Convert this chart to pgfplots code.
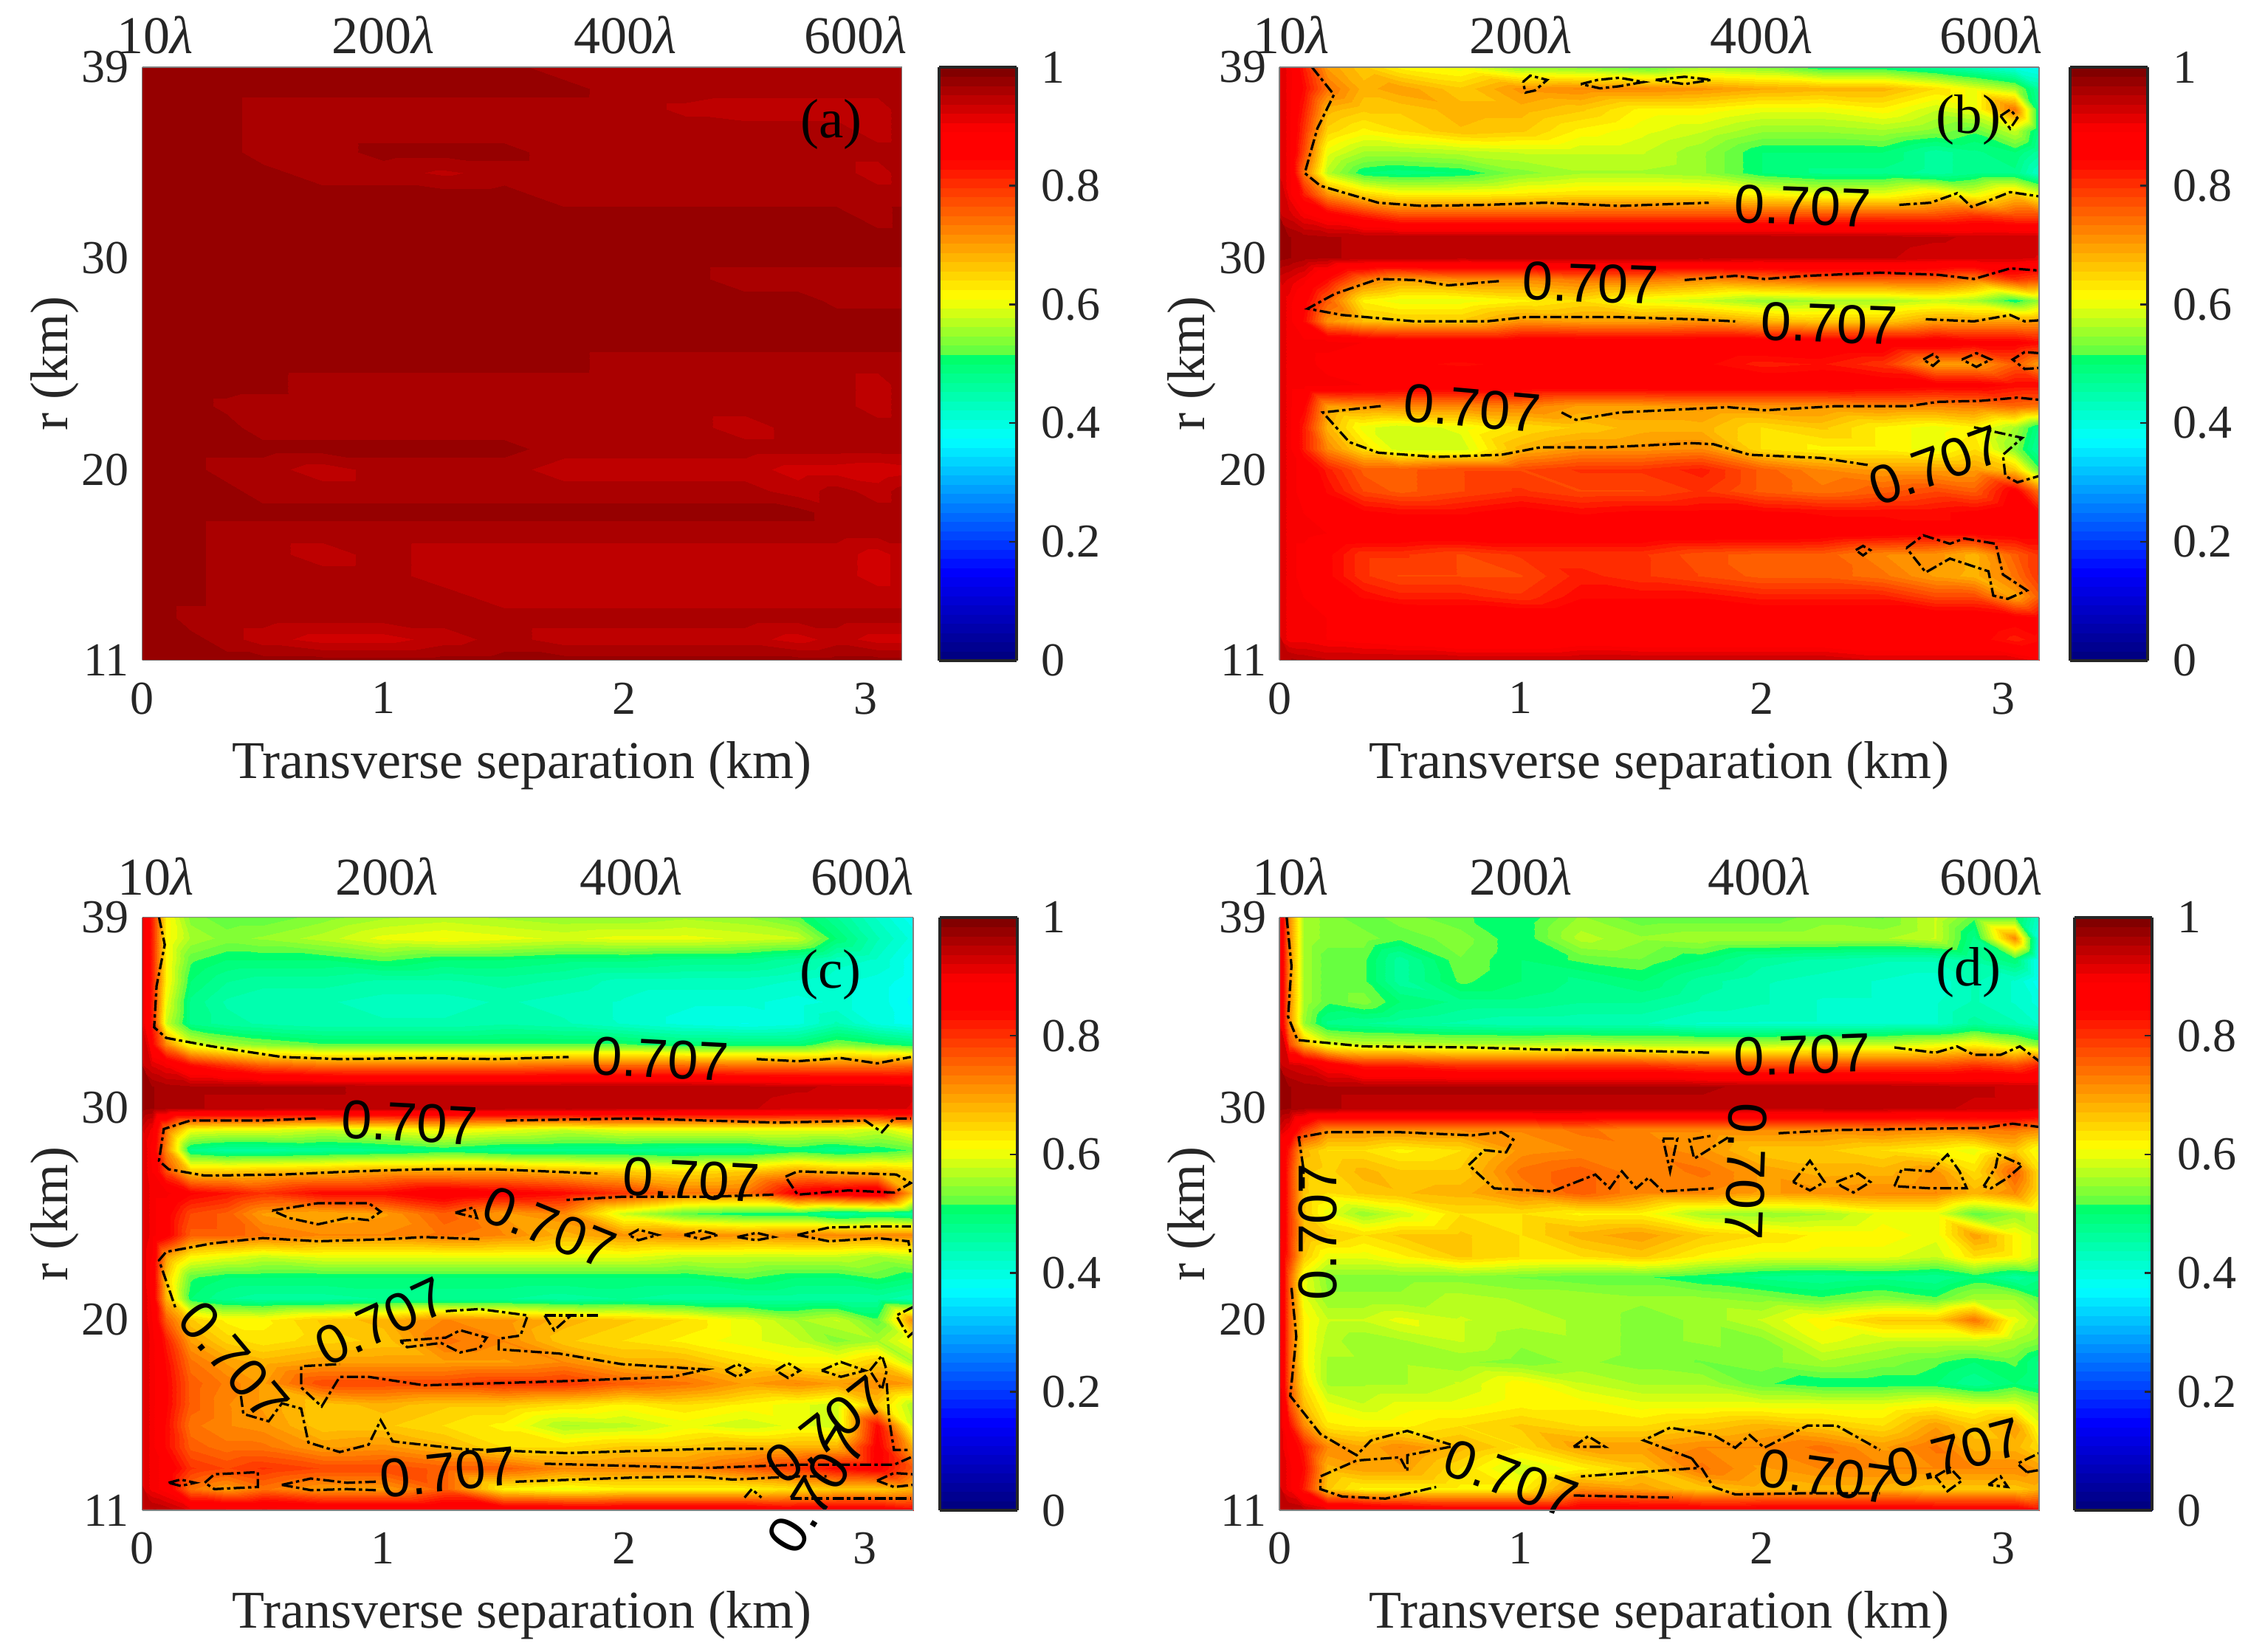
\documentclass[border=0pt]{standalone}
\usepackage{fontspec}
\setmainfont{Liberation Serif}
\newfontfamily\labfont{Liberation Sans}
\usepackage{pgfplots}
\usepackage{pgfplotstable}
\pgfplotsset{compat=1.18}
\definecolor{cornera}{RGB}{150,0,0}
\definecolor{cornerb}{RGB}{190,0,0}

\pgfplotsset{
  colormap={basejet}{rgb255(0pt)=(0,0,130); rgb255(145pt)=(0,0,255); rgb255(370pt)=(0,255,255);
    rgb255(515pt)=(0,255,100); rgb255(516pt)=(90,255,70); rgb255(613pt)=(255,255,0);
    rgb255(850pt)=(255,0,0); rgb255(900pt)=(255,0,0); rgb255(1000pt)=(130,0,0)},
  colormap={stepjet}{samples of colormap=(64 of basejet)},
  colormap access=piecewise constant,
  panel/.style n args={3}{
    scale only axis, width=#1, height=160.7pt, xmin=0, xmax=#2, ymin=11, ymax=39, zmin=0, zmax=2,
    view={0}{90}, clip=false, colormap name=stepjet, point meta min=0, point meta max=1,
    xtick={0,1,2,3}, xticklabels={0,1,2,3}, ytick={11,20,30,39}, yticklabels={11,20,30,39},
    ztick=\empty, major tick length=0pt, axis line style={gray,line width=.3pt},
    tick label style={font=\fontsize{12.8}{15}\selectfont,text=black!85},
    xticklabel style={yshift=-2.5pt}, yticklabel style={xshift=0pt},
    xlabel={Transverse separation (km)}, ylabel={r (km)},
    label style={font=\fontsize{14.4}{16}\selectfont,text=black!85},
    xlabel style={at={(axis description cs:0.5,0)},anchor=center,yshift=-28.5pt},
    ylabel style={at={(axis description cs:0,0.5)},anchor=center,yshift=23.7pt},
    colorbar, colorbar shift/.style={xshift=#3},
    colorbar style={width=21pt,height=160.7pt,
      ytick={0,0.2,0.4,0.6,0.8,1},yticklabels={0,0.2,0.4,0.6,0.8,1},ytick pos=right,yticklabel pos=right,
      tick align=inside,major tick length=2pt,tick style={black!85,line width=.5pt},
      axis line style={black!85,line width=.8pt},
      yticklabel style={font=\fontsize{12.8}{15}\selectfont,text=black!85,xshift=3.3pt}},
  },
  toplab/.style 2 args={
    scale only axis, width=#1, height=160.7pt, xmin=0, xmax=#2, ymin=11, ymax=39,
    axis x line*=top, axis y line=none, x axis line style={draw=none}, major tick length=0pt,
    xticklabel style={font=\fontsize{14.4}{16}\selectfont,text=black!85},
  },
  ct/.style={black,line width=.65pt,no marks,dash pattern=on 3pt off .9pt on .9pt off .9pt},
  hm/.style={surf,shader=interp,mesh/cols=18,forget plot},
}
\tikzset{
  lb/.style={font=\labfont\fontsize{14.8}{16}\selectfont,inner sep=0pt},
  tag/.style={font=\fontsize{15}{16}\selectfont,inner sep=0pt},
}
% x of a grid column, from its place in a row of 18
\def\colno{\numexpr\coordindex-18*((2*\coordindex-17)/36)\relax}
\def\gridstd{\ifcase\colno 0\or 0.04\or 0.1\or 0.2\or 0.35\or 0.5\or 0.75\or 1\or 1.25\or 1.5\or 1.75\or 2\or 2.25\or 2.5\or 2.72\or 2.88\or 3.05\or 3.15\fi}
\def\gridc{\ifcase\colno 0\or 0.04\or 0.1\or 0.2\or 0.35\or 0.5\or 0.75\or 1\or 1.25\or 1.5\or 1.75\or 2\or 2.25\or 2.5\or 2.72\or 2.88\or 3.05\or 3.2\fi}

% each line is one r, from 39 down to 11
\pgfplotstableread[row sep=\\,header=false]{
.975\\.975\\.975\\.975\\.975\\.975\\.975\\.975\\.975\\.975\\.96\\.96\\.96\\.96\\.96\\.955\\.955\\.96\\
.975\\.975\\.975\\.975\\.975\\.975\\.975\\.975\\.975\\.975\\.975\\.96\\.96\\.96\\.96\\.96\\.96\\.96\\
.975\\.975\\.975\\.975\\.975\\.96\\.96\\.96\\.96\\.96\\.96\\.96\\.95\\.945\\.945\\.945\\.945\\.96\\
.975\\.975\\.975\\.975\\.975\\.96\\.96\\.96\\.96\\.96\\.96\\.96\\.96\\.96\\.96\\.96\\.945\\.96\\
.975\\.975\\.975\\.975\\.975\\.96\\.96\\.975\\.975\\.975\\.96\\.96\\.96\\.96\\.96\\.96\\.96\\.96\\
.975\\.975\\.975\\.975\\.975\\.975\\.96\\.96\\.95\\.96\\.96\\.96\\.96\\.96\\.96\\.96\\.945\\.96\\
.975\\.975\\.975\\.975\\.975\\.975\\.975\\.975\\.975\\.975\\.96\\.96\\.96\\.96\\.96\\.96\\.96\\.96\\
.975\\.975\\.975\\.975\\.975\\.975\\.975\\.975\\.975\\.975\\.975\\.975\\.975\\.975\\.975\\.975\\.96\\.975\\
.975\\.975\\.975\\.975\\.975\\.975\\.975\\.975\\.975\\.975\\.975\\.975\\.975\\.975\\.975\\.975\\.975\\.975\\
.975\\.975\\.975\\.975\\.975\\.975\\.975\\.975\\.975\\.975\\.975\\.975\\.975\\.975\\.975\\.975\\.975\\.975\\
.975\\.975\\.975\\.975\\.975\\.975\\.975\\.975\\.975\\.975\\.975\\.975\\.975\\.96\\.96\\.96\\.96\\.96\\
.975\\.975\\.975\\.975\\.975\\.975\\.975\\.975\\.975\\.975\\.975\\.975\\.975\\.975\\.975\\.965\\.965\\.965\\
.975\\.975\\.975\\.975\\.975\\.975\\.975\\.975\\.975\\.975\\.975\\.975\\.975\\.975\\.975\\.975\\.975\\.975\\
.975\\.975\\.975\\.975\\.975\\.975\\.975\\.975\\.975\\.975\\.975\\.975\\.975\\.975\\.975\\.975\\.975\\.975\\
.975\\.975\\.975\\.975\\.975\\.975\\.975\\.975\\.975\\.975\\.975\\.96\\.96\\.96\\.96\\.96\\.96\\.96\\
.975\\.975\\.975\\.975\\.975\\.975\\.96\\.96\\.96\\.96\\.96\\.96\\.96\\.96\\.96\\.96\\.945\\.96\\
.975\\.975\\.975\\.975\\.965\\.96\\.96\\.96\\.96\\.96\\.96\\.96\\.96\\.96\\.96\\.96\\.945\\.96\\
.975\\.975\\.975\\.975\\.975\\.96\\.96\\.96\\.96\\.96\\.96\\.96\\.96\\.945\\.96\\.96\\.96\\.96\\
.975\\.975\\.975\\.975\\.975\\.975\\.975\\.975\\.975\\.975\\.96\\.96\\.96\\.96\\.96\\.96\\.96\\.96\\
.975\\.975\\.975\\.975\\.96\\.96\\.945\\.96\\.96\\.96\\.945\\.945\\.945\\.945\\.93\\.93\\.925\\.93\\
.975\\.975\\.975\\.975\\.975\\.96\\.96\\.96\\.96\\.96\\.96\\.96\\.96\\.96\\.945\\.96\\.945\\.96\\
.975\\.975\\.975\\.975\\.975\\.975\\.975\\.975\\.975\\.975\\.975\\.975\\.975\\.975\\.975\\.96\\.96\\.96\\
.975\\.975\\.975\\.975\\.96\\.96\\.96\\.96\\.96\\.96\\.96\\.96\\.96\\.96\\.96\\.96\\.96\\.96\\
.975\\.975\\.975\\.975\\.96\\.96\\.945\\.96\\.945\\.945\\.945\\.945\\.945\\.945\\.945\\.945\\.93\\.945\\
.975\\.975\\.975\\.975\\.96\\.96\\.96\\.96\\.945\\.945\\.945\\.945\\.945\\.945\\.945\\.945\\.93\\.945\\
.975\\.975\\.975\\.975\\.96\\.96\\.96\\.96\\.96\\.945\\.945\\.945\\.945\\.945\\.945\\.945\\.945\\.945\\
.975\\.975\\.975\\.96\\.96\\.96\\.96\\.96\\.96\\.96\\.96\\.96\\.96\\.96\\.96\\.96\\.96\\.96\\
.975\\.975\\.975\\.975\\.96\\.945\\.93\\.93\\.945\\.96\\.945\\.945\\.945\\.945\\.93\\.945\\.93\\.93\\
.975\\.975\\.975\\.975\\.975\\.975\\.975\\.975\\.975\\.975\\.975\\.975\\.975\\.975\\.975\\.975\\.975\\.975\\
}\tablea

\pgfplotstableread[row sep=\\,header=false]{
.92\\.90\\.82\\.70\\.66\\.62\\.60\\.55\\.54\\.52\\.56\\.54\\.50\\.50\\.47\\.44\\.40\\.38\\
.92\\.90\\.84\\.74\\.68\\.70\\.66\\.71\\.72\\.72\\.71\\.69\\.68\\.68\\.64\\.60\\.56\\.46\\
.92\\.90\\.82\\.68\\.66\\.66\\.68\\.68\\.66\\.62\\.62\\.60\\.60\\.62\\.58\\.60\\.74\\.48\\
.92\\.90\\.80\\.65\\.62\\.64\\.67\\.66\\.62\\.60\\.58\\.55\\.55\\.56\\.54\\.52\\.58\\.48\\
.92\\.90\\.78\\.60\\.56\\.56\\.57\\.58\\.58\\.58\\.55\\.50\\.50\\.50\\.46\\.48\\.50\\.46\\
.92\\.90\\.74\\.57\\.50\\.49\\.50\\.54\\.56\\.56\\.55\\.50\\.48\\.48\\.46\\.48\\.48\\.42\\
.92\\.90\\.82\\.71\\.65\\.62\\.62\\.63\\.64\\.64\\.64\\.62\\.60\\.60\\.64\\.60\\.66\\.60\\
.94\\.93\\.90\\.87\\.82\\.78\\.78\\.78\\.78\\.78\\.78\\.78\\.78\\.78\\.78\\.80\\.78\\.78\\
.975\\.97\\.96\\.955\\.95\\.95\\.95\\.95\\.95\\.95\\.95\\.95\\.945\\.945\\.94\\.935\\.935\\.935\\
.975\\.97\\.96\\.955\\.95\\.95\\.945\\.95\\.95\\.95\\.945\\.94\\.94\\.94\\.93\\.93\\.93\\.92\\
.93\\.92\\.90\\.84\\.74\\.70\\.72\\.72\\.74\\.74\\.72\\.74\\.76\\.76\\.76\\.73\\.80\\.78\\
.92\\.90\\.86\\.76\\.62\\.60\\.60\\.62\\.64\\.60\\.58\\.55\\.56\\.56\\.58\\.56\\.50\\.55\\
.92\\.90\\.84\\.71\\.67\\.66\\.66\\.71\\.70\\.70\\.71\\.68\\.66\\.66\\.70\\.70\\.70\\.70\\
.92\\.90\\.90\\.90\\.89\\.88\\.88\\.88\\.88\\.88\\.88\\.88\\.88\\.88\\.88\\.86\\.86\\.84\\
.92\\.90\\.90\\.88\\.87\\.85\\.84\\.85\\.87\\.86\\.85\\.82\\.83\\.80\\.70\\.70\\.76\\.70\\
.92\\.90\\.90\\.90\\.89\\.88\\.88\\.88\\.88\\.88\\.88\\.88\\.88\\.87\\.86\\.86\\.84\\.84\\
.92\\.90\\.85\\.70\\.71\\.72\\.72\\.73\\.70\\.70\\.71\\.71\\.71\\.72\\.72\\.73\\.75\\.74\\
.92\\.90\\.82\\.68\\.60\\.58\\.60\\.64\\.66\\.68\\.68\\.64\\.66\\.62\\.60\\.62\\.56\\.48\\
.92\\.90\\.82\\.72\\.64\\.58\\.58\\.68\\.71\\.71\\.72\\.64\\.62\\.62\\.60\\.64\\.54\\.46\\
.92\\.90\\.88\\.82\\.76\\.76\\.78\\.78\\.80\\.80\\.82\\.76\\.72\\.70\\.70\\.70\\.66\\.52\\
.92\\.90\\.88\\.84\\.78\\.76\\.78\\.80\\.78\\.78\\.80\\.76\\.74\\.76\\.78\\.76\\.86\\.74\\
.92\\.90\\.89\\.87\\.85\\.84\\.84\\.86\\.84\\.85\\.85\\.85\\.84\\.84\\.84\\.85\\.88\\.84\\
.92\\.90\\.90\\.89\\.88\\.88\\.88\\.88\\.88\\.88\\.88\\.88\\.87\\.86\\.85\\.85\\.86\\.86\\
.92\\.90\\.88\\.85\\.80\\.80\\.78\\.80\\.80\\.80\\.77\\.76\\.76\\.72\\.71\\.68\\.76\\.80\\
.92\\.90\\.88\\.85\\.80\\.78\\.78\\.78\\.82\\.80\\.78\\.76\\.76\\.74\\.70\\.68\\.74\\.80\\
.92\\.90\\.89\\.87\\.84\\.82\\.82\\.80\\.84\\.84\\.84\\.82\\.82\\.82\\.78\\.78\\.69\\.76\\
.92\\.90\\.90\\.89\\.89\\.89\\.88\\.88\\.88\\.88\\.88\\.88\\.88\\.88\\.88\\.88\\.86\\.85\\
.92\\.90\\.90\\.89\\.88\\.87\\.85\\.85\\.87\\.86\\.86\\.86\\.86\\.86\\.86\\.86\\.82\\.84\\
.97\\.96\\.95\\.94\\.94\\.94\\.94\\.94\\.94\\.94\\.94\\.94\\.94\\.92\\.92\\.92\\.92\\.90\\
}\tableb

\pgfplotstableread[row sep=\\,header=false]{
.92\\.82\\.62\\.54\\.52\\.52\\.54\\.56\\.57\\.56\\.55\\.55\\.56\\.55\\.52\\.47\\.42\\.38\\
.92\\.82\\.62\\.56\\.54\\.55\\.57\\.60\\.61\\.60\\.59\\.60\\.60\\.59\\.58\\.50\\.44\\.40\\
.92\\.82\\.62\\.52\\.50\\.50\\.50\\.52\\.50\\.50\\.49\\.49\\.48\\.48\\.46\\.43\\.42\\.38\\
.92\\.82\\.62\\.50\\.47\\.46\\.46\\.45\\.45\\.46\\.45\\.43\\.43\\.43\\.42\\.41\\.40\\.38\\
.92\\.82\\.60\\.48\\.45\\.44\\.44\\.43\\.43\\.44\\.43\\.42\\.41\\.41\\.40\\.41\\.40\\.37\\
.92\\.82\\.58\\.48\\.46\\.45\\.44\\.44\\.44\\.45\\.44\\.42\\.40\\.39\\.40\\.44\\.40\\.38\\
.92\\.85\\.72\\.60\\.56\\.54\\.52\\.52\\.52\\.52\\.52\\.52\\.50\\.50\\.50\\.54\\.52\\.50\\
.94\\.92\\.90\\.84\\.80\\.76\\.74\\.74\\.74\\.74\\.75\\.75\\.75\\.74\\.74\\.74\\.74\\.75\\
.975\\.97\\.96\\.955\\.955\\.955\\.955\\.95\\.95\\.95\\.95\\.95\\.95\\.945\\.94\\.935\\.935\\.925\\
.975\\.97\\.96\\.955\\.95\\.95\\.95\\.95\\.95\\.95\\.95\\.945\\.94\\.94\\.93\\.93\\.93\\.92\\
.93\\.90\\.74\\.61\\.60\\.60\\.58\\.60\\.62\\.60\\.58\\.60\\.60\\.60\\.60\\.60\\.58\\.62\\
.92\\.88\\.72\\.48\\.46\\.46\\.47\\.48\\.50\\.48\\.48\\.48\\.47\\.47\\.50\\.48\\.50\\.52\\
.92\\.89\\.78\\.66\\.66\\.67\\.68\\.70\\.70\\.70\\.68\\.66\\.64\\.66\\.70\\.68\\.68\\.66\\
.92\\.90\\.90\\.85\\.83\\.80\\.84\\.84\\.88\\.86\\.84\\.80\\.74\\.74\\.86\\.88\\.90\\.68\\
.92\\.90\\.86\\.78\\.76\\.70\\.69\\.70\\.76\\.70\\.72\\.58\\.52\\.50\\.50\\.46\\.48\\.46\\
.92\\.90\\.86\\.76\\.76\\.74\\.72\\.72\\.74\\.72\\.68\\.71\\.72\\.71\\.72\\.72\\.72\\.72\\
.92\\.89\\.70\\.62\\.60\\.58\\.60\\.60\\.60\\.60\\.60\\.60\\.58\\.58\\.58\\.58\\.56\\.58\\
.92\\.88\\.66\\.52\\.50\\.50\\.50\\.50\\.50\\.50\\.50\\.50\\.50\\.52\\.50\\.50\\.52\\.50\\
.92\\.88\\.68\\.50\\.47\\.46\\.46\\.47\\.47\\.47\\.46\\.47\\.46\\.46\\.46\\.46\\.46\\.44\\
.92\\.89\\.76\\.66\\.62\\.62\\.66\\.68\\.72\\.71\\.68\\.66\\.64\\.60\\.56\\.58\\.52\\.72\\
.92\\.90\\.82\\.70\\.65\\.63\\.65\\.66\\.74\\.72\\.66\\.64\\.62\\.60\\.58\\.54\\.56\\.62\\
.92\\.90\\.84\\.74\\.70\\.68\\.70\\.70\\.70\\.70\\.72\\.68\\.68\\.64\\.62\\.62\\.66\\.56\\
.92\\.90\\.85\\.76\\.73\\.70\\.78\\.78\\.78\\.80\\.80\\.76\\.74\\.70\\.72\\.70\\.72\\.70\\
.92\\.90\\.85\\.76\\.72\\.70\\.66\\.68\\.66\\.66\\.64\\.62\\.64\\.62\\.60\\.58\\.66\\.56\\
.92\\.90\\.84\\.74\\.72\\.71\\.66\\.66\\.64\\.62\\.56\\.57\\.60\\.58\\.60\\.58\\.84\\.58\\
.92\\.90\\.84\\.76\\.74\\.74\\.70\\.71\\.68\\.64\\.64\\.66\\.66\\.68\\.68\\.68\\.86\\.68\\
.92\\.90\\.88\\.80\\.78\\.80\\.78\\.78\\.76\\.76\\.72\\.72\\.72\\.76\\.80\\.84\\.86\\.76\\
.92\\.90\\.88\\.74\\.70\\.74\\.70\\.70\\.76\\.62\\.60\\.62\\.62\\.62\\.64\\.66\\.66\\.68\\
.97\\.96\\.95\\.92\\.92\\.92\\.90\\.90\\.90\\.90\\.90\\.90\\.90\\.90\\.88\\.88\\.88\\.85\\
}\tablec

\pgfplotstableread[row sep=\\,header=false]{
.92\\.72\\.56\\.54\\.52\\.54\\.52\\.50\\.55\\.52\\.52\\.52\\.54\\.53\\.58\\.52\\.52\\.42\\
.92\\.72\\.56\\.54\\.54\\.52\\.54\\.50\\.57\\.55\\.56\\.56\\.56\\.56\\.58\\.48\\.72\\.40\\
.92\\.72\\.56\\.52\\.52\\.46\\.53\\.50\\.52\\.53\\.50\\.46\\.45\\.44\\.44\\.46\\.50\\.38\\
.92\\.72\\.56\\.52\\.52\\.46\\.52\\.50\\.48\\.50\\.46\\.44\\.43\\.42\\.41\\.44\\.42\\.38\\
.92\\.72\\.56\\.52\\.54\\.50\\.48\\.48\\.47\\.47\\.45\\.44\\.42\\.42\\.42\\.44\\.42\\.40\\
.92\\.72\\.55\\.48\\.47\\.46\\.45\\.44\\.44\\.44\\.42\\.42\\.42\\.42\\.42\\.46\\.44\\.42\\
.92\\.78\\.68\\.60\\.58\\.58\\.57\\.57\\.58\\.57\\.57\\.57\\.58\\.58\\.60\\.62\\.58\\.54\\
.94\\.93\\.92\\.88\\.82\\.82\\.80\\.80\\.80\\.80\\.78\\.78\\.78\\.78\\.78\\.80\\.78\\.82\\
.975\\.97\\.96\\.955\\.955\\.955\\.955\\.955\\.955\\.955\\.955\\.95\\.95\\.95\\.945\\.94\\.935\\.935\\
.975\\.97\\.96\\.955\\.95\\.95\\.95\\.95\\.95\\.95\\.95\\.945\\.945\\.945\\.94\\.935\\.935\\.925\\
.93\\.90\\.80\\.72\\.72\\.72\\.72\\.72\\.74\\.72\\.72\\.72\\.72\\.73\\.72\\.73\\.74\\.72\\
.92\\.82\\.68\\.64\\.64\\.62\\.64\\.71\\.72\\.73\\.71\\.66\\.66\\.64\\.62\\.60\\.66\\.60\\
.92\\.80\\.66\\.65\\.68\\.66\\.66\\.74\\.76\\.72\\.74\\.70\\.68\\.68\\.71\\.64\\.76\\.64\\
.92\\.80\\.66\\.64\\.66\\.67\\.68\\.72\\.76\\.72\\.72\\.70\\.71\\.72\\.72\\.68\\.72\\.64\\
.92\\.80\\.66\\.60\\.55\\.58\\.64\\.64\\.62\\.62\\.56\\.55\\.56\\.60\\.60\\.52\\.55\\.58\\
.92\\.80\\.68\\.66\\.64\\.66\\.66\\.64\\.68\\.70\\.66\\.64\\.62\\.62\\.60\\.70\\.62\\.58\\
.92\\.80\\.66\\.60\\.60\\.62\\.66\\.64\\.64\\.66\\.62\\.60\\.60\\.60\\.58\\.64\\.62\\.58\\
.92\\.76\\.60\\.54\\.54\\.54\\.54\\.53\\.52\\.52\\.50\\.48\\.47\\.48\\.47\\.50\\.46\\.48\\
.92\\.76\\.60\\.55\\.55\\.55\\.57\\.56\\.56\\.55\\.55\\.54\\.52\\.54\\.52\\.56\\.56\\.52\\
.92\\.76\\.62\\.58\\.58\\.60\\.58\\.57\\.56\\.54\\.55\\.58\\.62\\.66\\.66\\.74\\.60\\.56\\
.92\\.76\\.62\\.57\\.55\\.56\\.58\\.55\\.56\\.54\\.55\\.54\\.60\\.58\\.58\\.58\\.56\\.54\\
.92\\.76\\.62\\.56\\.56\\.56\\.55\\.54\\.55\\.54\\.53\\.54\\.56\\.54\\.52\\.50\\.52\\.48\\
.92\\.76\\.64\\.56\\.56\\.56\\.58\\.62\\.58\\.56\\.56\\.52\\.50\\.50\\.50\\.47\\.50\\.48\\
.92\\.78\\.67\\.60\\.58\\.60\\.60\\.62\\.62\\.60\\.60\\.60\\.60\\.60\\.62\\.60\\.60\\.56\\
.92\\.84\\.72\\.63\\.62\\.62\\.64\\.66\\.64\\.64\\.66\\.68\\.66\\.64\\.70\\.66\\.70\\.60\\
.92\\.88\\.82\\.72\\.69\\.72\\.68\\.64\\.70\\.70\\.72\\.72\\.74\\.70\\.74\\.68\\.68\\.64\\
.92\\.90\\.84\\.68\\.70\\.70\\.64\\.58\\.62\\.66\\.74\\.70\\.72\\.72\\.72\\.72\\.72\\.70\\
.92\\.90\\.82\\.66\\.62\\.62\\.62\\.62\\.72\\.70\\.66\\.68\\.68\\.68\\.66\\.66\\.66\\.68\\
.97\\.96\\.95\\.92\\.92\\.90\\.88\\.88\\.88\\.88\\.88\\.88\\.88\\.88\\.88\\.88\\.88\\.84\\
}\tabled

\begin{document}
\begin{tikzpicture}
\path[use as bounding box] (0pt,0pt) rectangle (609pt,447.4pt);

% (a)
\begin{axis}[at={(38.5pt,268.5pt)},anchor=south west,panel={205.8pt}{3.15}{9.9pt}]
\addplot3[hm] table[x index=0,y index=0,x expr={\gridstd},y expr={39-floor(\coordindex/18)},z index=0]{\tablea};
\addplot[draw=none,fill=cornera,no marks] coordinates {(0,11)(.05,11)(0,12.2)(0,11)};
\node[tag] at (axis cs:2.857,36.3) {(a)};
\end{axis}
\begin{axis}[at={(38.5pt,268.5pt)},anchor=south west,toplab={205.8pt}{3.15},
  xtick={0.054,1,2.005,2.96},xticklabels={10\textit{λ},200\textit{λ},400\textit{λ},600\textit{λ}}]
\end{axis}

% (b)
\begin{axis}[at={(346.6pt,268.5pt)},anchor=south west,panel={205.8pt}{3.15}{8.1pt}]
\addplot3[hm] table[x index=0,y index=0,x expr={\gridstd},y expr={39-floor(\coordindex/18)},z index=0]{\tableb};
\addplot[draw=none,fill=cornerb,no marks] coordinates {(0,11)(.05,11)(0,12.2)(0,11)};
\addplot[ct] coordinates {(.135,39)(.226,37.7)(.157,36.1)(.105,34)(.17,33.4)(.32,32.9)(.41,32.6)(.59,32.45)(.86,32.5)(1.1,32.6)(1.41,32.45)(1.78,32.6)};
\addplot[ct] coordinates {(2.57,32.5)(2.7,32.6)(2.81,33.05)(2.87,32.4)(2.94,32.7)(3.03,33.1)(3.15,32.9)};
\addplot[ct] coordinates {(.91,28.9)(.7,28.7)(.56,28.95)(.41,29)(.23,28.3)(.117,27.6)(.26,27.3)(.56,27)(.86,27)(1.02,27.2)(1.41,27.2)(1.71,27.1)(1.89,27)};
\addplot[ct] coordinates {(1.68,28.95)(1.89,29.15)(2.01,29)(2.19,29.15)(2.49,29.3)(2.73,29.2)(2.88,29)(3.03,29.5)(3.15,29.4)};
\addplot[ct] coordinates {(2.68,27.1)(2.88,27)(3.03,27.3)(3.09,27)(3.15,27.05)};
\addplot[ct] coordinates {(2.67,25.2)(2.71,25.45)(2.74,25.2)(2.71,24.9)(2.67,25.2)};
\addplot[ct] coordinates {(2.83,25.2)(2.89,25.5)(2.95,25.2)(2.89,24.85)(2.83,25.2)};
\addplot[ct] coordinates {(3.15,25.5)(3.09,25.55)(3.04,25.2)(3.09,24.75)(3.15,24.8)};
\addplot[ct] coordinates {(.42,23)(.18,22.7)(.29,21.3)(.41,20.8)(.65,20.6)(.92,20.7)(1.08,21.05)(1.35,21.05)(1.71,21.25)(1.8,21.2)(1.95,20.7)(2.25,20.55)(2.45,20.2)};
\addplot[ct] coordinates {(1.17,22.7)(1.23,22.35)(1.41,22.7)(1.86,22.95)(2.01,22.8)(2.31,23)(2.61,23)(2.73,23.2)(2.91,23.25)(3.06,23.4)(3.15,23.3)};
\addplot[ct] coordinates {(2.88,22)(3.08,21.5)(3,20.7)(3.01,19.7)(3.06,19.4)(3.15,19.7)};
\addplot[ct] coordinates {(2.39,16.2)(2.42,16.4)(2.45,16.2)(2.42,15.95)(2.39,16.2)};
\addplot[ct] coordinates {(2.6,16.3)(2.67,16.9)(2.78,16.5)(2.84,16.75)(2.97,16.5)(3,15.05)(3.1,14.3)(3.02,13.9)(2.96,14.05)(2.94,15.2)(2.78,15.8)(2.68,15.15)(2.6,16.3)};
\addplot[ct] coordinates {(1.01,38.3)(1.04,38.6)(1.11,38.4)(1.06,37.9)(1.02,37.8)(1.01,38.3)};
\addplot[ct] coordinates {(1.25,38.2)(1.32,38.4)(1.41,38.5)(1.51,38.3)(1.41,38.1)(1.33,38)(1.25,38.2)};
\addplot[ct] coordinates {(1.56,38.4)(1.68,38.55)(1.79,38.4)(1.68,38.2)(1.56,38.4)};
\addplot[ct] coordinates {(2.99,36.7)(3.03,37)(3.06,36.6)(3.03,36.1)(2.99,36.7)};
\node[lb,rotate=-2] at (axis cs:2.17,32.45) {0.707};
\node[lb,rotate=-2] at (axis cs:1.29,28.8) {0.707};
\node[lb,rotate=-2] at (axis cs:2.28,26.9) {0.707};
\node[lb,rotate=-5] at (axis cs:.8,22.9) {0.707};
\node[lb,rotate=20] at (axis cs:2.72,20.2) {0.707};
\node[tag] at (axis cs:2.857,36.5) {(b)};
\end{axis}
\begin{axis}[at={(346.6pt,268.5pt)},anchor=south west,toplab={205.8pt}{3.15},
  xtick={0.05,1,2,2.95},xticklabels={10\textit{λ},200\textit{λ},400\textit{λ},600\textit{λ}}]
\end{axis}

% (c)
\begin{axis}[at={(38.5pt,38.2pt)},anchor=south west,panel={208.9pt}{3.2}{6.8pt},xlabel style={xshift=-1.5pt}]
\addplot3[hm] table[x index=0,y index=0,x expr={\gridc},y expr={39-floor(\coordindex/18)},z index=0]{\tablec};
\addplot[draw=none,fill=cornerb,no marks] coordinates {(0,11)(.05,11)(0,12.2)(0,11)};
\addplot[ct] coordinates {(.07,39)(.094,37.7)(.06,35.75)(.05,33.8)(.1,33.3)(.29,32.9)(.58,32.4)(.82,32.3)(1.17,32.35)(1.46,32.3)(1.77,32.4)};
\addplot[ct] coordinates {(2.55,32.3)(2.72,32.2)(2.9,32.35)(3.05,32.1)(3.19,32.4)};
\addplot[ct] coordinates {(.72,29.5)(.5,29.4)(.2,29.4)(.09,29)(.07,27.5)(.11,27.1)(.26,26.8)(.58,26.85)(.88,27)(1.17,27.1)(1.46,27.1)(1.89,26.9)};
\addplot[ct] coordinates {(1.51,29.4)(2.05,29.5)(2.34,29.4)(2.64,29.3)(3,29.4)(3.07,28.85)(3.12,29.5)(3.19,29.5)};
\addplot[ct] coordinates {(2.67,26.75)(2.72,27)(3.13,26.85)(3.19,26.45)(3.12,26)(2.93,26.1)(2.72,25.9)(2.67,26.75)};
\addplot[ct] coordinates {(2.62,25.9)(2.34,25.8)(1.99,25.8)(1.76,25.65)};
\addplot[ct] coordinates {(.54,25.15)(.73,25.5)(.94,25.5)(.99,25.1)(.94,24.7)(.85,24.8)(.73,24.5)(.61,24.8)(.54,25.15)};
\addplot[ct] coordinates {(1.3,25.05)(1.375,25.3)(1.39,24.8)(1.3,25.05)};
\addplot[ct] coordinates {(1.4,23.8)(1.17,23.9)(1.02,23.8)(.73,23.7)(.5,23.85)(.29,23.6)(.1,23.2)(.07,22.8)(.11,21.5)(.14,20.5)};
\addplot[ct] coordinates {(2.02,24)(2.06,24.25)(2.14,24)(2.06,23.75)(2.02,24)};
\addplot[ct] coordinates {(2.25,24)(2.32,24.2)(2.39,24)(2.32,23.8)(2.25,24)};
\addplot[ct] coordinates {(2.47,23.9)(2.55,24.1)(2.62,23.9)(2.55,23.75)(2.47,23.9)};
\addplot[ct] coordinates {(2.72,24)(2.85,24.35)(3.05,24.4)(3.19,24.4)};
\addplot[ct] coordinates {(2.72,24)(2.85,23.7)(3.05,23.85)(3.18,23.7)(3.19,23.05)};
\addplot[ct] coordinates {(.41,16.4)(.42,15.55)(.525,15.2)(.58,16.05)(.66,15.8)(.69,14.2)(.82,13.75)(.94,14.1)(.99,15.25)(1.04,14.25)(1.32,13.9)(1.76,13.7)(2.34,13.9)(2.58,13.9)};
\addplot[ct] coordinates {(3.09,17)(3.1,15.3)(3.12,13.85)(3.19,13.85)};
\addplot[ct] coordinates {(1.26,20.4)(1.4,20.5)(1.6,20.2)(1.57,19.25)(1.48,19.1)(1.48,18.6)(1.73,18.4)(1.99,17.9)(2.34,17.65)(2.2,17.3)(1.76,17.1)(1.17,16.9)(.94,17.3)(.82,17.3)(.745,15.9)(.66,16.8)(.66,17.8)(.82,17.9)};
\addplot[ct] coordinates {(1.07,19)(1.26,19.15)(1.32,19.5)(1.43,19.15)(1.4,18.65)(1.32,18.45)(1.24,18.9)(1.1,18.7)(1.07,19)};
\addplot[ct] coordinates {(1.67,20.2)(1.9,20.2)};
\addplot[ct] coordinates {(1.67,20.2)(1.71,19.5)(1.78,20.2)};
\addplot[ct] coordinates {(2.42,17.6)(2.47,17.9)(2.52,17.6)(2.47,17.3)(2.42,17.6)};
\addplot[ct] coordinates {(2.63,17.6)(2.68,17.95)(2.73,17.6)(2.68,17.25)(2.63,17.6)};
\addplot[ct] coordinates {(2.82,17.6)(2.9,18)(3.0,17.6)(2.9,17.3)(2.82,17.6)};
\addplot[ct] coordinates {(3.02,17.6)(3.07,18.3)(3.09,17.6)(3.07,16.7)(3.02,17.6)};
\addplot[ct] coordinates {(3.2,20.6)(3.13,20.2)(3.18,19.2)(3.2,19.4)};
\addplot[ct] coordinates {(.11,12.3)(.16,12.45)(.22,12.3)(.16,12.15)(.11,12.3)};
\addplot[ct] coordinates {(.26,12.3)(.3,12.7)(.48,12.8)(.48,12.1)(.3,12)(.26,12.3)};
\addplot[ct] coordinates {(.58,12.2)(.7,12.5)(.85,12.3)(.97,12.35)};
\addplot[ct] coordinates {(.58,12.2)(.7,11.95)(.85,12)(.97,11.95)};
\addplot[ct] coordinates {(1.55,12.35)(2.05,12.55)(2.3,12.6)(2.45,12.45)(2.72,12.6)(2.84,12.6)};
\addplot[ct] coordinates {(1.67,13.2)(2.34,13)(2.72,13.15)(3.12,13.15)(3.19,13.5)};
\addplot[ct] coordinates {(3.05,12.4)(3.12,12.76)(3.2,12.7)};
\addplot[ct] coordinates {(3.05,12.4)(3.12,12.1)(3.2,12.2)};
\addplot[ct] coordinates {(2.69,11.56)(3.19,11.56)};
\addplot[ct] coordinates {(2.5,11.6)(2.53,12)(2.57,11.6)};
\node[lb,rotate=-3] at (axis cs:2.15,32.3) {0.707};
\node[lb,rotate=-3] at (axis cs:1.11,29.3) {0.707};
\node[lb,rotate=-3] at (axis cs:2.28,26.6) {0.707};
\node[lb,rotate=-22] at (axis cs:1.69,24.35) {0.707};
\node[lb,rotate=-50] at (axis cs:.38,18.05) {0.707};
\node[lb,rotate=25] at (axis cs:.99,19.9) {0.707};
\node[lb,rotate=6] at (axis cs:1.27,12.8) {0.707};
\node[lb,rotate=38] at (axis cs:2.837,14.8) {0.707};
\node[lb,rotate=58] at (axis cs:2.8,11.95) {0.707};
\node[tag] at (axis cs:2.857,36.3) {(c)};
\end{axis}
\begin{axis}[at={(38.5pt,38.2pt)},anchor=south west,toplab={208.9pt}{3.2},xticklabel style={yshift=2.3pt},
  xtick={0.056,1.015,2.03,2.99},xticklabels={10\textit{λ},200\textit{λ},400\textit{λ},600\textit{λ}}]
\end{axis}

% (d)
\begin{axis}[at={(346.6pt,38.2pt)},anchor=south west,panel={205.8pt}{3.15}{9.3pt}]
\addplot3[hm] table[x index=0,y index=0,x expr={\gridstd},y expr={39-floor(\coordindex/18)},z index=0]{\tabled};
\addplot[draw=none,fill=cornerb,no marks] coordinates {(0,11)(.05,11)(0,12.2)(0,11)};
\addplot[ct] coordinates {(.03,39)(.05,36.7)(.036,34.3)(.075,33.2)(.35,32.9)(.8,32.85)(1.1,32.75)(1.47,32.7)(1.79,32.6)};
\addplot[ct] coordinates {(2.55,32.85)(2.72,32.6)(2.81,32.9)(2.88,32.5)(2.99,32.5)(3.07,32.9)(3.15,32.2)};
\addplot[ct] coordinates {(.05,21.5)(.07,19.2)(.045,16.4)(.17,14.6)(.32,13.6)(.38,14.3)(.53,14.75)(.71,14.1)};
\addplot[ct] coordinates {(.71,14)(.53,13.6)(.53,12.85)(.5,13.5)(.32,13.35)(.17,12.6)(.17,12)(.26,11.65)(.44,11.55)(.65,12.1)};
\addplot[ct] coordinates {(.1,26.2)(.1,27.1)(.08,28.6)(.2,28.85)(.5,28.85)(.8,28.7)(.92,28.85)(.97,28.5)(.94,27.9)(.85,28)(.785,27.3)(.89,26.2)(1.13,26.05)(1.31,26.85)(1.37,26.2)(1.42,27)(1.48,26.2)(1.53,26.7)(1.59,26.05)(1.8,26.2)};
\addplot[ct] coordinates {(1.86,28.6)(1.72,27.6)(1.7,28.5)(1.8,28.7)};
\addplot[ct] coordinates {(2.07,28.8)(2.31,28.95)(2.61,29)(2.92,29.05)(3.04,29.25)(3.15,29.1)};
\addplot[ct] coordinates {(1.59,28.55)(1.65,28.55)(1.62,27)(1.59,28.55)};
\addplot[ct] coordinates {(2.13,26.5)(2.2,27.5)(2.26,26.5)(2.2,26.1)(2.13,26.5)};
\addplot[ct] coordinates {(2.31,26.5)(2.4,26.9)(2.45,26.5)(2.38,26)(2.33,26.3)(2.31,26.5)};
\addplot[ct] coordinates {(2.55,26.3)(2.58,27.1)(2.7,27)(2.77,27.8)(2.82,27)(2.85,26.2)(2.7,26.2)(2.55,26.3)};
\addplot[ct] coordinates {(2.92,26.3)(2.97,27.2)(2.98,27.8)(3.08,27.3)(3.02,26.7)(2.95,26.2)(2.92,26.3)};
\addplot[ct] coordinates {(1.22,14)(1.28,14.5)(1.35,14)(1.22,14)};
\addplot[ct] coordinates {(1.71,13.45)(1.51,14.3)(1.62,14.9)(1.8,14.55)(1.89,13.95)(1.95,14.55)(2.01,13.95)(2.19,15)(2.31,15)(2.49,13.85)};
\addplot[ct] coordinates {(1.71,13.45)(1.74,13)(1.25,12.6)};
\addplot[ct] coordinates {(1.75,13)(1.8,12.1)(1.89,11.75)(2.16,11.8)(2.49,11.8)};
\addplot[ct] coordinates {(1.22,11.7)(1.63,11.6)};
\addplot[ct] coordinates {(2.72,12.6)(2.78,13)(2.83,12.4)(2.77,11.9)(2.72,12.6)};
\addplot[ct] coordinates {(2.94,12.2)(2.99,12.6)(3.02,12.1)(2.94,12.2)};
\addplot[ct] coordinates {(3.1,12.8)(3.06,13.2)(3.15,13.7)};
\addplot[ct] coordinates {(3.1,12.8)(3.15,12.9)};
\node[lb,rotate=2] at (axis cs:2.167,32.5) {0.707};
\node[lb,rotate=90] at (axis cs:.16,24.15) {0.707};
\node[lb,rotate=-92] at (axis cs:1.935,27) {0.707};
\node[lb,rotate=-20] at (axis cs:.96,12.5) {0.707};
\node[lb,rotate=-8] at (axis cs:2.27,12.6) {0.707};
\node[lb,rotate=15] at (axis cs:2.8,13.7) {0.707};
\node[tag] at (axis cs:2.857,36.4) {(d)};
\end{axis}
\begin{axis}[at={(346.6pt,38.2pt)},anchor=south west,toplab={205.8pt}{3.15},xticklabel style={yshift=2.3pt},
  xtick={0.045,1,1.99,2.95},xticklabels={10\textit{λ},200\textit{λ},400\textit{λ},600\textit{λ}}]
\end{axis}
\end{tikzpicture}
\end{document}
